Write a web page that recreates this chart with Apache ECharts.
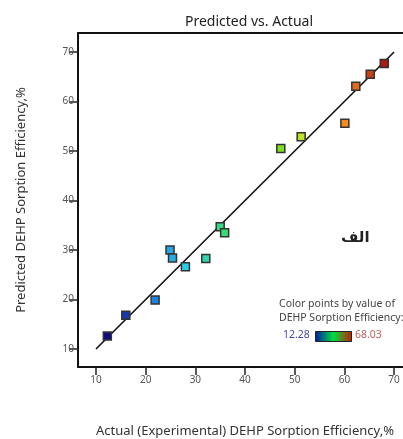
<!DOCTYPE html>
<html>
<head>
<meta charset="utf-8">
<script src="https://cdn.jsdelivr.net/npm/echarts@6/dist/echarts.min.js"></script>
<style>html,body{margin:0;padding:0;background:#fff}#c{width:403px;height:439px}</style>
</head>
<body>
<div id="c"></div>
<script>
var actual =    [68.03, 65.2, 62.3, 60.1, 51.3, 47.2, 35.0, 35.9, 24.9, 25.4, 28.0, 32.1, 21.9, 16.0, 12.28];
var predicted = [67.7, 65.5, 63.1, 55.6, 52.9, 50.5, 34.7, 33.5, 30.0, 28.4, 26.6, 28.3, 19.9, 16.8, 12.6];
var fitLine = [[10, 10], [70, 70]];
var tickValues = [10, 20, 30, 40, 50, 60, 70];
var colorMin = 12.28, colorMax = 68.03;

var points = actual.map(function (a, i) { return [a, predicted[i], a]; });
var font = 'Noto Sans';
var chart = echarts.init(document.getElementById('c'));
chart.setOption({
  animation: false,
  backgroundColor: '#fff',
  title: {
    text: 'Predicted vs. Actual', left: 244, top: 10, textAlign: 'center',
    textStyle: { fontFamily: font, fontSize: 14, fontWeight: 'normal', color: '#222' }
  },
  grid: { left: 78, right: 0, top: 33, bottom: 72, outerBoundsMode: 'none', containLabel: false },
  visualMap: {
    show: false, type: 'continuous', dimension: 2, seriesIndex: 0,
    min: colorMin, max: colorMax,
    inRange: { color: ['#0c0c80', '#1c6ee0', '#28d0e8', '#38dc70', '#50dc20', '#c8e428', '#f48c20', '#b01810'] }
  },
  xAxis: [{
    type: 'value', min: 6.376, max: 71.8, position: 'bottom',
    name: 'Actual (Experimental) DEHP Sorption Efficiency,%', nameLocation: 'middle', nameGap: 58,
    nameTextStyle: { fontFamily: font, fontSize: 13, color: '#333', padding: [0, 0, 0, 9] },
    splitLine: { show: false },
    axisLine: { show: true, onZero: false, lineStyle: { color: '#111', width: 2 } },
    axisTick: { show: true, length: 8, customValues: tickValues, lineStyle: { color: '#222', width: 1.5 } },
    axisLabel: { customValues: tickValues, margin: 8, fontFamily: font, fontSize: 10, color: '#555' }
  }, {
    type: 'value', min: 6.376, max: 71.8, position: 'top',
    splitLine: { show: false }, axisTick: { show: false }, axisLabel: { show: false },
    axisLine: { show: true, onZero: false, lineStyle: { color: '#111', width: 2 } }
  }],
  yAxis: {
    type: 'value', min: 6.36, max: 73.84,
    name: 'Predicted DEHP Sorption Efficiency,%', nameLocation: 'middle', nameGap: 50,
    nameTextStyle: { fontFamily: font, fontSize: 13, color: '#333' },
    splitLine: { show: false },
    axisLine: { show: true, onZero: false, lineStyle: { color: '#111', width: 2 } },
    axisTick: { show: true, length: 9, customValues: tickValues, lineStyle: { color: '#222', width: 1.5 } },
    axisLabel: { customValues: tickValues, margin: 4, fontFamily: font, fontSize: 10, color: '#555' }
  },
  series: [{
    type: 'scatter', data: points, symbol: 'rect', symbolSize: 8, z: 3,
    itemStyle: { borderColor: '#333', borderWidth: 1.5, opacity: 1 }
  }, {
    type: 'line', data: fitLine, symbol: 'none', z: 2,
    lineStyle: { color: '#111', width: 1.6 }
  }],
  graphic: [
    { type: 'text', left: 341, top: 231, style: { text: 'الف', font: 'bold 15px "DejaVu Sans"', fill: '#222' } },
    { type: 'text', left: 279, top: 299, style: { text: 'Color points by value of', font: '10.5px "Noto Sans"', fill: '#444' } },
    { type: 'text', left: 279, top: 313, style: { text: 'DEHP Sorption Efficiency:', font: '10.5px "Noto Sans"', fill: '#444' } },
    { type: 'text', left: 283, top: 330, style: { text: '12.28', font: '10.5px "Noto Sans"', fill: '#4a4a9c' } },
    { type: 'text', left: 355, top: 330, style: { text: '68.03', font: '10.5px "Noto Sans"', fill: '#c06060' } },
    { type: 'rect', left: 315, top: 331, shape: { width: 36, height: 10 },
      style: { stroke: '#222', lineWidth: 1,
        fill: new echarts.graphic.LinearGradient(0, 0, 1, 0, [
          { offset: 0, color: '#0018a8' }, { offset: 0.5, color: '#00e040' }, { offset: 1, color: '#c81800' }]) } }
  ]
});
</script>
</body>
</html>
